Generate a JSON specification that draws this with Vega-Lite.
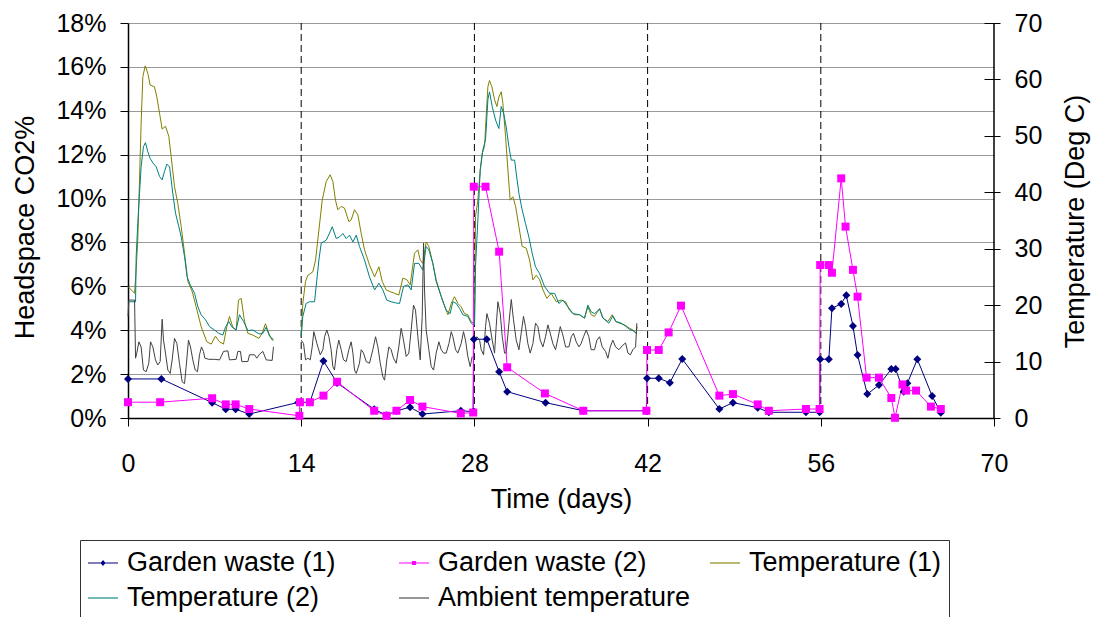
{
  "$schema": "https://vega.github.io/schema/vega-lite/v6.json",
  "width": 866,
  "height": 395,
  "autosize": {"type": "none"},
  "padding": {"left": 128, "top": 23, "right": 104, "bottom": 199},
  "background": "white",
  "config": {
    "font": "Liberation Sans",
    "view": {"stroke": null},
    "axis": {
      "labelColor": "black", "titleColor": "black", "titleFontWeight": "normal",
      "domainColor": "black", "tickColor": "black", "domainWidth": 1.5, "tickWidth": 1,
      "labelFontSize": 25, "titleFontSize": 27,
      "labelFont": "Liberation Sans", "titleFont": "Liberation Sans"
    },
    "legend": {"labelFont": "Liberation Sans"}
  },
  "datasets": {
    "co2": [
      {"series": "Garden waste (1)", "day": 0, "co2": 1.78},
      {"series": "Garden waste (1)", "day": 2.7, "co2": 1.78},
      {"series": "Garden waste (1)", "day": 6.8, "co2": 0.7},
      {"series": "Garden waste (1)", "day": 7.9, "co2": 0.4},
      {"series": "Garden waste (1)", "day": 8.7, "co2": 0.4},
      {"series": "Garden waste (1)", "day": 9.8, "co2": 0.18},
      {"series": "Garden waste (1)", "day": 13.75, "co2": 0.71},
      {"series": "Garden waste (1)", "day": 14.7, "co2": 0.71},
      {"series": "Garden waste (1)", "day": 15.8, "co2": 2.6},
      {"series": "Garden waste (1)", "day": 16.9, "co2": 1.6},
      {"series": "Garden waste (1)", "day": 19.9, "co2": 0.4},
      {"series": "Garden waste (1)", "day": 20.9, "co2": 0.12},
      {"series": "Garden waste (1)", "day": 21.7, "co2": 0.33},
      {"series": "Garden waste (1)", "day": 22.8, "co2": 0.49},
      {"series": "Garden waste (1)", "day": 23.8, "co2": 0.18},
      {"series": "Garden waste (1)", "day": 26.9, "co2": 0.33},
      {"series": "Garden waste (1)", "day": 27.9, "co2": 0.29},
      {"series": "Garden waste (1)", "day": 27.95, "co2": 3.59},
      {"series": "Garden waste (1)", "day": 29.0, "co2": 3.59},
      {"series": "Garden waste (1)", "day": 30.0, "co2": 2.11},
      {"series": "Garden waste (1)", "day": 30.65, "co2": 1.2},
      {"series": "Garden waste (1)", "day": 33.75, "co2": 0.7},
      {"series": "Garden waste (1)", "day": 36.8, "co2": 0.33},
      {"series": "Garden waste (1)", "day": 41.9, "co2": 0.33},
      {"series": "Garden waste (1)", "day": 41.95, "co2": 1.81},
      {"series": "Garden waste (1)", "day": 42.9, "co2": 1.81},
      {"series": "Garden waste (1)", "day": 43.8, "co2": 1.61},
      {"series": "Garden waste (1)", "day": 44.8, "co2": 2.69},
      {"series": "Garden waste (1)", "day": 47.8, "co2": 0.41},
      {"series": "Garden waste (1)", "day": 48.9, "co2": 0.7},
      {"series": "Garden waste (1)", "day": 50.9, "co2": 0.47},
      {"series": "Garden waste (1)", "day": 51.8, "co2": 0.26},
      {"series": "Garden waste (1)", "day": 54.8, "co2": 0.26},
      {"series": "Garden waste (1)", "day": 55.9, "co2": 0.26},
      {"series": "Garden waste (1)", "day": 55.95, "co2": 2.68},
      {"series": "Garden waste (1)", "day": 56.65, "co2": 2.68},
      {"series": "Garden waste (1)", "day": 56.9, "co2": 5.0},
      {"series": "Garden waste (1)", "day": 57.65, "co2": 5.2},
      {"series": "Garden waste (1)", "day": 58.06, "co2": 5.59},
      {"series": "Garden waste (1)", "day": 58.6, "co2": 4.19},
      {"series": "Garden waste (1)", "day": 58.97, "co2": 2.87},
      {"series": "Garden waste (1)", "day": 59.76, "co2": 1.09},
      {"series": "Garden waste (1)", "day": 60.7, "co2": 1.5},
      {"series": "Garden waste (1)", "day": 61.7, "co2": 2.23},
      {"series": "Garden waste (1)", "day": 62.05, "co2": 2.23},
      {"series": "Garden waste (1)", "day": 62.7, "co2": 1.2},
      {"series": "Garden waste (1)", "day": 63.0, "co2": 1.58},
      {"series": "Garden waste (1)", "day": 63.8, "co2": 2.68},
      {"series": "Garden waste (1)", "day": 65.0, "co2": 1.0},
      {"series": "Garden waste (1)", "day": 65.7, "co2": 0.24},
      {"series": "Garden waste (2)", "day": 0, "co2": 0.72},
      {"series": "Garden waste (2)", "day": 2.6, "co2": 0.72},
      {"series": "Garden waste (2)", "day": 6.8, "co2": 0.9},
      {"series": "Garden waste (2)", "day": 7.9, "co2": 0.62},
      {"series": "Garden waste (2)", "day": 8.7, "co2": 0.62},
      {"series": "Garden waste (2)", "day": 9.8, "co2": 0.41},
      {"series": "Garden waste (2)", "day": 13.85, "co2": 0.1},
      {"series": "Garden waste (2)", "day": 13.9, "co2": 0.72},
      {"series": "Garden waste (2)", "day": 14.7, "co2": 0.72},
      {"series": "Garden waste (2)", "day": 15.8, "co2": 1.02},
      {"series": "Garden waste (2)", "day": 16.9, "co2": 1.65},
      {"series": "Garden waste (2)", "day": 19.9, "co2": 0.33},
      {"series": "Garden waste (2)", "day": 20.9, "co2": 0.1},
      {"series": "Garden waste (2)", "day": 21.7, "co2": 0.33},
      {"series": "Garden waste (2)", "day": 22.8, "co2": 0.82},
      {"series": "Garden waste (2)", "day": 23.8, "co2": 0.52},
      {"series": "Garden waste (2)", "day": 26.9, "co2": 0.21},
      {"series": "Garden waste (2)", "day": 27.9, "co2": 0.25},
      {"series": "Garden waste (2)", "day": 27.95, "co2": 10.54},
      {"series": "Garden waste (2)", "day": 28.9, "co2": 10.54},
      {"series": "Garden waste (2)", "day": 30.0, "co2": 7.58},
      {"series": "Garden waste (2)", "day": 30.65, "co2": 2.31},
      {"series": "Garden waste (2)", "day": 33.7, "co2": 1.12},
      {"series": "Garden waste (2)", "day": 36.8, "co2": 0.33},
      {"series": "Garden waste (2)", "day": 41.9, "co2": 0.33},
      {"series": "Garden waste (2)", "day": 41.95, "co2": 3.1},
      {"series": "Garden waste (2)", "day": 42.9, "co2": 3.1},
      {"series": "Garden waste (2)", "day": 43.7, "co2": 3.9},
      {"series": "Garden waste (2)", "day": 44.7, "co2": 5.12},
      {"series": "Garden waste (2)", "day": 47.8, "co2": 1.02},
      {"series": "Garden waste (2)", "day": 48.9, "co2": 1.09},
      {"series": "Garden waste (2)", "day": 50.9, "co2": 0.62},
      {"series": "Garden waste (2)", "day": 51.8, "co2": 0.33},
      {"series": "Garden waste (2)", "day": 54.8, "co2": 0.41},
      {"series": "Garden waste (2)", "day": 55.9, "co2": 0.41},
      {"series": "Garden waste (2)", "day": 55.95, "co2": 6.97},
      {"series": "Garden waste (2)", "day": 56.65, "co2": 6.97},
      {"series": "Garden waste (2)", "day": 56.9, "co2": 6.62},
      {"series": "Garden waste (2)", "day": 57.65, "co2": 10.92},
      {"series": "Garden waste (2)", "day": 58.0, "co2": 8.72},
      {"series": "Garden waste (2)", "day": 58.6, "co2": 6.75},
      {"series": "Garden waste (2)", "day": 58.97, "co2": 5.53},
      {"series": "Garden waste (2)", "day": 59.7, "co2": 1.84},
      {"series": "Garden waste (2)", "day": 60.7, "co2": 1.84},
      {"series": "Garden waste (2)", "day": 61.7, "co2": 0.91},
      {"series": "Garden waste (2)", "day": 62.0, "co2": 0.01},
      {"series": "Garden waste (2)", "day": 62.6, "co2": 1.53},
      {"series": "Garden waste (2)", "day": 62.9, "co2": 1.25},
      {"series": "Garden waste (2)", "day": 63.7, "co2": 1.25},
      {"series": "Garden waste (2)", "day": 64.9, "co2": 0.52},
      {"series": "Garden waste (2)", "day": 65.7, "co2": 0.41}
    ],
    "temp": [
      {"series": "Temperature (1)", "run": 1, "day": 0, "temp": 23.3},
      {"series": "Temperature (1)", "run": 1, "day": 0.53, "temp": 22.1},
      {"series": "Temperature (1)", "run": 1, "day": 0.64, "temp": 25.6},
      {"series": "Temperature (1)", "run": 1, "day": 0.79, "temp": 31.5},
      {"series": "Temperature (1)", "run": 1, "day": 0.93, "temp": 42.2},
      {"series": "Temperature (1)", "run": 1, "day": 1.06, "temp": 52.2},
      {"series": "Temperature (1)", "run": 1, "day": 1.2, "temp": 60.5},
      {"series": "Temperature (1)", "run": 1, "day": 1.39, "temp": 62.4},
      {"series": "Temperature (1)", "run": 1, "day": 1.6, "temp": 61.1},
      {"series": "Temperature (1)", "run": 1, "day": 1.79, "temp": 59.0},
      {"series": "Temperature (1)", "run": 1, "day": 2.14, "temp": 58.7},
      {"series": "Temperature (1)", "run": 1, "day": 2.33, "temp": 56.9},
      {"series": "Temperature (1)", "run": 1, "day": 2.55, "temp": 54.0},
      {"series": "Temperature (1)", "run": 1, "day": 2.76, "temp": 51.2},
      {"series": "Temperature (1)", "run": 1, "day": 3.03, "temp": 51.7},
      {"series": "Temperature (1)", "run": 1, "day": 3.3, "temp": 49.9},
      {"series": "Temperature (1)", "run": 1, "day": 3.49, "temp": 46.3},
      {"series": "Temperature (1)", "run": 1, "day": 3.76, "temp": 41.0},
      {"series": "Temperature (1)", "run": 1, "day": 4.03, "temp": 38.0},
      {"series": "Temperature (1)", "run": 1, "day": 4.3, "temp": 33.9},
      {"series": "Temperature (1)", "run": 1, "day": 4.57, "temp": 29.2},
      {"series": "Temperature (1)", "run": 1, "day": 4.84, "temp": 24.2},
      {"series": "Temperature (1)", "run": 1, "day": 5.19, "temp": 22.4},
      {"series": "Temperature (1)", "run": 1, "day": 5.51, "temp": 19.7},
      {"series": "Temperature (1)", "run": 1, "day": 5.91, "temp": 16.2},
      {"series": "Temperature (1)", "run": 1, "day": 6.37, "temp": 13.5},
      {"series": "Temperature (1)", "run": 1, "day": 6.72, "temp": 13.1},
      {"series": "Temperature (1)", "run": 1, "day": 7.07, "temp": 14.5},
      {"series": "Temperature (1)", "run": 1, "day": 7.4, "temp": 13.5},
      {"series": "Temperature (1)", "run": 1, "day": 7.72, "temp": 13.1},
      {"series": "Temperature (1)", "run": 1, "day": 7.99, "temp": 16.2},
      {"series": "Temperature (1)", "run": 1, "day": 8.2, "temp": 18.0},
      {"series": "Temperature (1)", "run": 1, "day": 8.47, "temp": 16.1},
      {"series": "Temperature (1)", "run": 1, "day": 8.74, "temp": 15.6},
      {"series": "Temperature (1)", "run": 1, "day": 8.93, "temp": 20.9},
      {"series": "Temperature (1)", "run": 1, "day": 9.15, "temp": 21.2},
      {"series": "Temperature (1)", "run": 1, "day": 9.42, "temp": 17.1},
      {"series": "Temperature (1)", "run": 1, "day": 9.69, "temp": 15.0},
      {"series": "Temperature (1)", "run": 1, "day": 10.09, "temp": 14.7},
      {"series": "Temperature (1)", "run": 1, "day": 10.58, "temp": 14.1},
      {"series": "Temperature (1)", "run": 1, "day": 10.84, "temp": 15.0},
      {"series": "Temperature (1)", "run": 1, "day": 11.11, "temp": 16.7},
      {"series": "Temperature (1)", "run": 1, "day": 11.38, "temp": 15.0},
      {"series": "Temperature (1)", "run": 1, "day": 11.65, "temp": 13.8},
      {"series": "Temperature (1)", "run": 1, "day": 11.76, "temp": 13.8},
      {"series": "Temperature (1)", "run": 2, "day": 14.0, "temp": 14.4},
      {"series": "Temperature (1)", "run": 2, "day": 14.13, "temp": 20.3},
      {"series": "Temperature (1)", "run": 2, "day": 14.35, "temp": 24.2},
      {"series": "Temperature (1)", "run": 2, "day": 14.54, "temp": 25.3},
      {"series": "Temperature (1)", "run": 2, "day": 14.94, "temp": 25.9},
      {"series": "Temperature (1)", "run": 2, "day": 15.16, "temp": 28.0},
      {"series": "Temperature (1)", "run": 2, "day": 15.43, "temp": 33.3},
      {"series": "Temperature (1)", "run": 2, "day": 15.7, "temp": 38.6},
      {"series": "Temperature (1)", "run": 2, "day": 16.02, "temp": 41.9},
      {"series": "Temperature (1)", "run": 2, "day": 16.34, "temp": 43.1},
      {"series": "Temperature (1)", "run": 2, "day": 16.56, "temp": 41.9},
      {"series": "Temperature (1)", "run": 2, "day": 16.77, "temp": 38.6},
      {"series": "Temperature (1)", "run": 2, "day": 16.96, "temp": 36.9},
      {"series": "Temperature (1)", "run": 2, "day": 17.23, "temp": 37.5},
      {"series": "Temperature (1)", "run": 2, "day": 17.5, "temp": 37.2},
      {"series": "Temperature (1)", "run": 2, "day": 17.85, "temp": 34.8},
      {"series": "Temperature (1)", "run": 2, "day": 18.04, "temp": 35.1},
      {"series": "Temperature (1)", "run": 2, "day": 18.31, "temp": 36.9},
      {"series": "Temperature (1)", "run": 2, "day": 18.58, "temp": 36.0},
      {"series": "Temperature (1)", "run": 2, "day": 18.85, "temp": 32.7},
      {"series": "Temperature (1)", "run": 2, "day": 19.12, "temp": 29.8},
      {"series": "Temperature (1)", "run": 2, "day": 19.52, "temp": 27.1},
      {"series": "Temperature (1)", "run": 2, "day": 19.93, "temp": 25.0},
      {"series": "Temperature (1)", "run": 2, "day": 20.28, "temp": 26.8},
      {"series": "Temperature (1)", "run": 2, "day": 20.55, "temp": 24.2},
      {"series": "Temperature (1)", "run": 2, "day": 20.87, "temp": 22.7},
      {"series": "Temperature (1)", "run": 2, "day": 21.19, "temp": 22.4},
      {"series": "Temperature (1)", "run": 2, "day": 21.54, "temp": 22.1},
      {"series": "Temperature (1)", "run": 2, "day": 21.89, "temp": 21.8},
      {"series": "Temperature (1)", "run": 2, "day": 22.22, "temp": 24.8},
      {"series": "Temperature (1)", "run": 2, "day": 22.54, "temp": 24.5},
      {"series": "Temperature (1)", "run": 2, "day": 22.81, "temp": 23.6},
      {"series": "Temperature (1)", "run": 2, "day": 23.16, "temp": 29.2},
      {"series": "Temperature (1)", "run": 2, "day": 23.43, "temp": 29.8},
      {"series": "Temperature (1)", "run": 2, "day": 23.62, "temp": 28.0},
      {"series": "Temperature (1)", "run": 2, "day": 23.83, "temp": 27.4},
      {"series": "Temperature (1)", "run": 2, "day": 24.1, "temp": 31.2},
      {"series": "Temperature (1)", "run": 2, "day": 24.32, "temp": 30.4},
      {"series": "Temperature (1)", "run": 2, "day": 24.64, "temp": 27.4},
      {"series": "Temperature (1)", "run": 2, "day": 24.91, "temp": 24.5},
      {"series": "Temperature (1)", "run": 2, "day": 25.24, "temp": 22.1},
      {"series": "Temperature (1)", "run": 2, "day": 25.51, "temp": 20.3},
      {"series": "Temperature (1)", "run": 2, "day": 25.86, "temp": 18.3},
      {"series": "Temperature (1)", "run": 2, "day": 26.13, "temp": 20.3},
      {"series": "Temperature (1)", "run": 2, "day": 26.39, "temp": 21.5},
      {"series": "Temperature (1)", "run": 2, "day": 26.66, "temp": 20.3},
      {"series": "Temperature (1)", "run": 2, "day": 26.93, "temp": 19.7},
      {"series": "Temperature (1)", "run": 2, "day": 27.2, "temp": 18.5},
      {"series": "Temperature (1)", "run": 2, "day": 27.47, "temp": 18.3},
      {"series": "Temperature (1)", "run": 2, "day": 27.74, "temp": 17.1},
      {"series": "Temperature (1)", "run": 2, "day": 27.93, "temp": 16.8},
      {"series": "Temperature (1)", "run": 3, "day": 28.01, "temp": 16.8},
      {"series": "Temperature (1)", "run": 3, "day": 28.09, "temp": 35.7},
      {"series": "Temperature (1)", "run": 3, "day": 28.28, "temp": 38.6},
      {"series": "Temperature (1)", "run": 3, "day": 28.47, "temp": 43.9},
      {"series": "Temperature (1)", "run": 3, "day": 28.63, "temp": 46.9},
      {"series": "Temperature (1)", "run": 3, "day": 28.82, "temp": 48.1},
      {"series": "Temperature (1)", "run": 3, "day": 28.95, "temp": 53.4},
      {"series": "Temperature (1)", "run": 3, "day": 29.09, "temp": 58.7},
      {"series": "Temperature (1)", "run": 3, "day": 29.22, "temp": 59.8},
      {"series": "Temperature (1)", "run": 3, "day": 29.41, "temp": 58.7},
      {"series": "Temperature (1)", "run": 3, "day": 29.63, "temp": 56.4},
      {"series": "Temperature (1)", "run": 3, "day": 29.82, "temp": 55.2},
      {"series": "Temperature (1)", "run": 3, "day": 29.98, "temp": 56.9},
      {"series": "Temperature (1)", "run": 3, "day": 30.17, "temp": 57.8},
      {"series": "Temperature (1)", "run": 3, "day": 30.3, "temp": 55.8},
      {"series": "Temperature (1)", "run": 3, "day": 30.52, "temp": 49.9},
      {"series": "Temperature (1)", "run": 3, "day": 30.71, "temp": 43.9},
      {"series": "Temperature (1)", "run": 3, "day": 30.89, "temp": 38.6},
      {"series": "Temperature (1)", "run": 3, "day": 31.11, "temp": 39.2},
      {"series": "Temperature (1)", "run": 3, "day": 31.33, "temp": 37.5},
      {"series": "Temperature (1)", "run": 3, "day": 31.6, "temp": 33.9},
      {"series": "Temperature (1)", "run": 3, "day": 31.86, "temp": 30.4},
      {"series": "Temperature (1)", "run": 3, "day": 32.19, "temp": 30.1},
      {"series": "Temperature (1)", "run": 3, "day": 32.46, "temp": 28.0},
      {"series": "Temperature (1)", "run": 3, "day": 32.73, "temp": 24.5},
      {"series": "Temperature (1)", "run": 3, "day": 33.0, "temp": 25.3},
      {"series": "Temperature (1)", "run": 3, "day": 33.27, "temp": 24.5},
      {"series": "Temperature (1)", "run": 3, "day": 33.54, "temp": 22.7},
      {"series": "Temperature (1)", "run": 3, "day": 33.86, "temp": 21.2},
      {"series": "Temperature (1)", "run": 3, "day": 34.21, "temp": 22.1},
      {"series": "Temperature (1)", "run": 3, "day": 34.61, "temp": 20.6},
      {"series": "Temperature (1)", "run": 3, "day": 35.02, "temp": 20.9},
      {"series": "Temperature (1)", "run": 3, "day": 35.37, "temp": 20.6},
      {"series": "Temperature (1)", "run": 3, "day": 35.69, "temp": 19.1},
      {"series": "Temperature (1)", "run": 3, "day": 36.1, "temp": 18.3},
      {"series": "Temperature (1)", "run": 3, "day": 36.5, "temp": 18.3},
      {"series": "Temperature (1)", "run": 3, "day": 36.9, "temp": 17.7},
      {"series": "Temperature (1)", "run": 3, "day": 37.17, "temp": 19.7},
      {"series": "Temperature (1)", "run": 3, "day": 37.44, "temp": 18.3},
      {"series": "Temperature (1)", "run": 3, "day": 37.71, "temp": 18.0},
      {"series": "Temperature (1)", "run": 3, "day": 38.12, "temp": 19.4},
      {"series": "Temperature (1)", "run": 3, "day": 38.39, "temp": 17.7},
      {"series": "Temperature (1)", "run": 3, "day": 38.79, "temp": 17.1},
      {"series": "Temperature (1)", "run": 3, "day": 39.14, "temp": 18.3},
      {"series": "Temperature (1)", "run": 3, "day": 39.41, "temp": 17.1},
      {"series": "Temperature (1)", "run": 3, "day": 39.73, "temp": 16.8},
      {"series": "Temperature (1)", "run": 3, "day": 40.14, "temp": 16.5},
      {"series": "Temperature (1)", "run": 3, "day": 40.54, "temp": 15.9},
      {"series": "Temperature (1)", "run": 3, "day": 40.81, "temp": 15.6},
      {"series": "Temperature (1)", "run": 3, "day": 41.08, "temp": 15.0},
      {"series": "Temperature (1)", "run": 3, "day": 41.16, "temp": 16.2},
      {"series": "Temperature (2)", "run": 1, "day": 0.12, "temp": 20.6},
      {"series": "Temperature (2)", "run": 1, "day": 0.61, "temp": 20.6},
      {"series": "Temperature (2)", "run": 1, "day": 0.66, "temp": 28.6},
      {"series": "Temperature (2)", "run": 1, "day": 0.79, "temp": 34.5},
      {"series": "Temperature (2)", "run": 1, "day": 0.93, "temp": 39.8},
      {"series": "Temperature (2)", "run": 1, "day": 1.06, "temp": 44.5},
      {"series": "Temperature (2)", "run": 1, "day": 1.25, "temp": 48.1},
      {"series": "Temperature (2)", "run": 1, "day": 1.41, "temp": 48.8},
      {"series": "Temperature (2)", "run": 1, "day": 1.6, "temp": 47.2},
      {"series": "Temperature (2)", "run": 1, "day": 1.79, "temp": 46.0},
      {"series": "Temperature (2)", "run": 1, "day": 2.01, "temp": 45.2},
      {"series": "Temperature (2)", "run": 1, "day": 2.28, "temp": 44.5},
      {"series": "Temperature (2)", "run": 1, "day": 2.55, "temp": 42.8},
      {"series": "Temperature (2)", "run": 1, "day": 2.76, "temp": 42.2},
      {"series": "Temperature (2)", "run": 1, "day": 2.95, "temp": 43.7},
      {"series": "Temperature (2)", "run": 1, "day": 3.14, "temp": 45.0},
      {"series": "Temperature (2)", "run": 1, "day": 3.36, "temp": 44.5},
      {"series": "Temperature (2)", "run": 1, "day": 3.49, "temp": 42.2},
      {"series": "Temperature (2)", "run": 1, "day": 3.62, "temp": 39.8},
      {"series": "Temperature (2)", "run": 1, "day": 3.84, "temp": 36.3},
      {"series": "Temperature (2)", "run": 1, "day": 4.11, "temp": 33.9},
      {"series": "Temperature (2)", "run": 1, "day": 4.3, "temp": 32.1},
      {"series": "Temperature (2)", "run": 1, "day": 4.57, "temp": 28.6},
      {"series": "Temperature (2)", "run": 1, "day": 4.78, "temp": 25.0},
      {"series": "Temperature (2)", "run": 1, "day": 5.03, "temp": 23.6},
      {"series": "Temperature (2)", "run": 1, "day": 5.38, "temp": 22.1},
      {"series": "Temperature (2)", "run": 1, "day": 5.65, "temp": 19.7},
      {"series": "Temperature (2)", "run": 1, "day": 5.91, "temp": 18.3},
      {"series": "Temperature (2)", "run": 1, "day": 6.27, "temp": 17.4},
      {"series": "Temperature (2)", "run": 1, "day": 6.59, "temp": 16.2},
      {"series": "Temperature (2)", "run": 1, "day": 6.99, "temp": 15.6},
      {"series": "Temperature (2)", "run": 1, "day": 7.34, "temp": 15.0},
      {"series": "Temperature (2)", "run": 1, "day": 7.67, "temp": 14.7},
      {"series": "Temperature (2)", "run": 1, "day": 7.88, "temp": 16.1},
      {"series": "Temperature (2)", "run": 1, "day": 8.15, "temp": 17.1},
      {"series": "Temperature (2)", "run": 1, "day": 8.42, "temp": 16.1},
      {"series": "Temperature (2)", "run": 1, "day": 8.74, "temp": 15.6},
      {"series": "Temperature (2)", "run": 1, "day": 9.01, "temp": 18.3},
      {"series": "Temperature (2)", "run": 1, "day": 9.34, "temp": 17.1},
      {"series": "Temperature (2)", "run": 1, "day": 9.69, "temp": 15.5},
      {"series": "Temperature (2)", "run": 1, "day": 10.09, "temp": 15.6},
      {"series": "Temperature (2)", "run": 1, "day": 10.58, "temp": 14.9},
      {"series": "Temperature (2)", "run": 1, "day": 10.9, "temp": 15.0},
      {"series": "Temperature (2)", "run": 1, "day": 11.17, "temp": 16.1},
      {"series": "Temperature (2)", "run": 1, "day": 11.44, "temp": 14.5},
      {"series": "Temperature (2)", "run": 1, "day": 11.76, "temp": 13.9},
      {"series": "Temperature (2)", "run": 2, "day": 14.0, "temp": 14.4},
      {"series": "Temperature (2)", "run": 2, "day": 14.13, "temp": 18.0},
      {"series": "Temperature (2)", "run": 2, "day": 14.4, "temp": 20.3},
      {"series": "Temperature (2)", "run": 2, "day": 14.67, "temp": 20.6},
      {"series": "Temperature (2)", "run": 2, "day": 15.08, "temp": 20.6},
      {"series": "Temperature (2)", "run": 2, "day": 15.43, "temp": 28.0},
      {"series": "Temperature (2)", "run": 2, "day": 15.62, "temp": 31.0},
      {"series": "Temperature (2)", "run": 2, "day": 16.02, "temp": 31.5},
      {"series": "Temperature (2)", "run": 2, "day": 16.34, "temp": 33.0},
      {"series": "Temperature (2)", "run": 2, "day": 16.51, "temp": 33.9},
      {"series": "Temperature (2)", "run": 2, "day": 16.83, "temp": 31.8},
      {"series": "Temperature (2)", "run": 2, "day": 17.1, "temp": 32.1},
      {"series": "Temperature (2)", "run": 2, "day": 17.37, "temp": 32.7},
      {"series": "Temperature (2)", "run": 2, "day": 17.64, "temp": 31.8},
      {"series": "Temperature (2)", "run": 2, "day": 17.91, "temp": 32.4},
      {"series": "Temperature (2)", "run": 2, "day": 18.18, "temp": 31.2},
      {"series": "Temperature (2)", "run": 2, "day": 18.45, "temp": 32.4},
      {"series": "Temperature (2)", "run": 2, "day": 18.71, "temp": 30.4},
      {"series": "Temperature (2)", "run": 2, "day": 19.12, "temp": 28.0},
      {"series": "Temperature (2)", "run": 2, "day": 19.52, "temp": 25.0},
      {"series": "Temperature (2)", "run": 2, "day": 19.93, "temp": 22.7},
      {"series": "Temperature (2)", "run": 2, "day": 20.28, "temp": 23.9},
      {"series": "Temperature (2)", "run": 2, "day": 20.6, "temp": 22.7},
      {"series": "Temperature (2)", "run": 2, "day": 20.92, "temp": 20.9},
      {"series": "Temperature (2)", "run": 2, "day": 21.27, "temp": 20.6},
      {"series": "Temperature (2)", "run": 2, "day": 21.62, "temp": 20.4},
      {"series": "Temperature (2)", "run": 2, "day": 21.95, "temp": 20.3},
      {"series": "Temperature (2)", "run": 2, "day": 22.27, "temp": 23.3},
      {"series": "Temperature (2)", "run": 2, "day": 22.62, "temp": 23.6},
      {"series": "Temperature (2)", "run": 2, "day": 22.89, "temp": 22.7},
      {"series": "Temperature (2)", "run": 2, "day": 23.16, "temp": 27.4},
      {"series": "Temperature (2)", "run": 2, "day": 23.51, "temp": 27.4},
      {"series": "Temperature (2)", "run": 2, "day": 23.83, "temp": 26.2},
      {"series": "Temperature (2)", "run": 2, "day": 24.1, "temp": 30.4},
      {"series": "Temperature (2)", "run": 2, "day": 24.32, "temp": 29.8},
      {"series": "Temperature (2)", "run": 2, "day": 24.64, "temp": 27.4},
      {"series": "Temperature (2)", "run": 2, "day": 24.91, "temp": 24.2},
      {"series": "Temperature (2)", "run": 2, "day": 25.32, "temp": 21.5},
      {"series": "Temperature (2)", "run": 2, "day": 25.72, "temp": 19.1},
      {"series": "Temperature (2)", "run": 2, "day": 26.04, "temp": 18.5},
      {"series": "Temperature (2)", "run": 2, "day": 26.26, "temp": 20.6},
      {"series": "Temperature (2)", "run": 2, "day": 26.53, "temp": 20.3},
      {"series": "Temperature (2)", "run": 2, "day": 26.8, "temp": 19.4},
      {"series": "Temperature (2)", "run": 2, "day": 27.07, "temp": 18.3},
      {"series": "Temperature (2)", "run": 2, "day": 27.47, "temp": 18.0},
      {"series": "Temperature (2)", "run": 2, "day": 27.74, "temp": 16.8},
      {"series": "Temperature (2)", "run": 2, "day": 27.93, "temp": 16.5},
      {"series": "Temperature (2)", "run": 3, "day": 28.01, "temp": 16.5},
      {"series": "Temperature (2)", "run": 3, "day": 28.09, "temp": 26.8},
      {"series": "Temperature (2)", "run": 3, "day": 28.28, "temp": 35.1},
      {"series": "Temperature (2)", "run": 3, "day": 28.47, "temp": 43.9},
      {"series": "Temperature (2)", "run": 3, "day": 28.68, "temp": 47.5},
      {"series": "Temperature (2)", "run": 3, "day": 28.9, "temp": 49.3},
      {"series": "Temperature (2)", "run": 3, "day": 29.09, "temp": 56.4},
      {"series": "Temperature (2)", "run": 3, "day": 29.22, "temp": 57.8},
      {"series": "Temperature (2)", "run": 3, "day": 29.44, "temp": 55.2},
      {"series": "Temperature (2)", "run": 3, "day": 29.71, "temp": 52.8},
      {"series": "Temperature (2)", "run": 3, "day": 29.98, "temp": 51.3},
      {"series": "Temperature (2)", "run": 3, "day": 30.17, "temp": 55.2},
      {"series": "Temperature (2)", "run": 3, "day": 30.36, "temp": 54.0},
      {"series": "Temperature (2)", "run": 3, "day": 30.57, "temp": 51.6},
      {"series": "Temperature (2)", "run": 3, "day": 30.79, "temp": 48.1},
      {"series": "Temperature (2)", "run": 3, "day": 30.98, "temp": 45.7},
      {"series": "Temperature (2)", "run": 3, "day": 31.25, "temp": 45.7},
      {"series": "Temperature (2)", "run": 3, "day": 31.38, "temp": 43.4},
      {"series": "Temperature (2)", "run": 3, "day": 31.6, "temp": 39.8},
      {"series": "Temperature (2)", "run": 3, "day": 31.86, "temp": 36.9},
      {"series": "Temperature (2)", "run": 3, "day": 32.13, "temp": 34.5},
      {"series": "Temperature (2)", "run": 3, "day": 32.4, "temp": 32.1},
      {"series": "Temperature (2)", "run": 3, "day": 32.67, "temp": 29.2},
      {"series": "Temperature (2)", "run": 3, "day": 32.94, "temp": 26.8},
      {"series": "Temperature (2)", "run": 3, "day": 33.27, "temp": 25.6},
      {"series": "Temperature (2)", "run": 3, "day": 33.67, "temp": 23.3},
      {"series": "Temperature (2)", "run": 3, "day": 34.07, "temp": 22.1},
      {"series": "Temperature (2)", "run": 3, "day": 34.48, "temp": 22.1},
      {"series": "Temperature (2)", "run": 3, "day": 34.83, "temp": 20.3},
      {"series": "Temperature (2)", "run": 3, "day": 35.15, "temp": 20.9},
      {"series": "Temperature (2)", "run": 3, "day": 35.56, "temp": 19.7},
      {"series": "Temperature (2)", "run": 3, "day": 35.96, "temp": 18.5},
      {"series": "Temperature (2)", "run": 3, "day": 36.5, "temp": 18.3},
      {"series": "Temperature (2)", "run": 3, "day": 36.9, "temp": 17.7},
      {"series": "Temperature (2)", "run": 3, "day": 37.17, "temp": 20.0},
      {"series": "Temperature (2)", "run": 3, "day": 37.44, "temp": 18.8},
      {"series": "Temperature (2)", "run": 3, "day": 37.71, "temp": 18.5},
      {"series": "Temperature (2)", "run": 3, "day": 38.12, "temp": 19.3},
      {"series": "Temperature (2)", "run": 3, "day": 38.39, "temp": 17.7},
      {"series": "Temperature (2)", "run": 3, "day": 38.87, "temp": 16.8},
      {"series": "Temperature (2)", "run": 3, "day": 39.19, "temp": 18.1},
      {"series": "Temperature (2)", "run": 3, "day": 39.46, "temp": 17.1},
      {"series": "Temperature (2)", "run": 3, "day": 39.87, "temp": 16.8},
      {"series": "Temperature (2)", "run": 3, "day": 40.27, "temp": 16.2},
      {"series": "Temperature (2)", "run": 3, "day": 40.54, "temp": 15.7},
      {"series": "Temperature (2)", "run": 3, "day": 40.81, "temp": 15.5},
      {"series": "Temperature (2)", "run": 3, "day": 41.08, "temp": 15.0},
      {"series": "Ambient temperature", "run": 1, "day": 0, "temp": 18.0},
      {"series": "Ambient temperature", "run": 1, "day": 0.07, "temp": 20.9},
      {"series": "Ambient temperature", "run": 1, "day": 0.53, "temp": 20.9},
      {"series": "Ambient temperature", "run": 1, "day": 0.61, "temp": 10.6},
      {"series": "Ambient temperature", "run": 1, "day": 0.71, "temp": 11.5},
      {"series": "Ambient temperature", "run": 1, "day": 0.88, "temp": 13.5},
      {"series": "Ambient temperature", "run": 1, "day": 1.06, "temp": 12.6},
      {"series": "Ambient temperature", "run": 1, "day": 1.25, "temp": 8.5},
      {"series": "Ambient temperature", "run": 1, "day": 1.47, "temp": 8.2},
      {"series": "Ambient temperature", "run": 1, "day": 1.68, "temp": 9.7},
      {"series": "Ambient temperature", "run": 1, "day": 1.82, "temp": 13.5},
      {"series": "Ambient temperature", "run": 1, "day": 2.01, "temp": 12.6},
      {"series": "Ambient temperature", "run": 1, "day": 2.22, "temp": 10.3},
      {"series": "Ambient temperature", "run": 1, "day": 2.41, "temp": 9.4},
      {"series": "Ambient temperature", "run": 1, "day": 2.6, "temp": 10.0},
      {"series": "Ambient temperature", "run": 1, "day": 2.76, "temp": 17.5},
      {"series": "Ambient temperature", "run": 1, "day": 2.87, "temp": 13.8},
      {"series": "Ambient temperature", "run": 1, "day": 3.03, "temp": 11.5},
      {"series": "Ambient temperature", "run": 1, "day": 3.22, "temp": 8.5},
      {"series": "Ambient temperature", "run": 1, "day": 3.41, "temp": 7.9},
      {"series": "Ambient temperature", "run": 1, "day": 3.57, "temp": 10.3},
      {"series": "Ambient temperature", "run": 1, "day": 3.76, "temp": 14.1},
      {"series": "Ambient temperature", "run": 1, "day": 3.95, "temp": 13.2},
      {"series": "Ambient temperature", "run": 1, "day": 4.16, "temp": 9.7},
      {"series": "Ambient temperature", "run": 1, "day": 4.38, "temp": 6.4},
      {"series": "Ambient temperature", "run": 1, "day": 4.57, "temp": 6.1},
      {"series": "Ambient temperature", "run": 1, "day": 4.7, "temp": 9.1},
      {"series": "Ambient temperature", "run": 1, "day": 4.89, "temp": 13.8},
      {"series": "Ambient temperature", "run": 1, "day": 5.05, "temp": 12.6},
      {"series": "Ambient temperature", "run": 1, "day": 5.24, "temp": 10.3},
      {"series": "Ambient temperature", "run": 1, "day": 5.43, "temp": 8.5},
      {"series": "Ambient temperature", "run": 1, "day": 5.62, "temp": 8.2},
      {"series": "Ambient temperature", "run": 1, "day": 5.78, "temp": 11.2},
      {"series": "Ambient temperature", "run": 1, "day": 5.94, "temp": 12.6},
      {"series": "Ambient temperature", "run": 1, "day": 6.1, "temp": 11.8},
      {"series": "Ambient temperature", "run": 1, "day": 6.21, "temp": 10.6},
      {"series": "Ambient temperature", "run": 1, "day": 6.53, "temp": 10.4},
      {"series": "Ambient temperature", "run": 1, "day": 6.99, "temp": 10.4},
      {"series": "Ambient temperature", "run": 1, "day": 7.4, "temp": 10.3},
      {"series": "Ambient temperature", "run": 1, "day": 7.72, "temp": 11.8},
      {"series": "Ambient temperature", "run": 1, "day": 8.07, "temp": 11.9},
      {"series": "Ambient temperature", "run": 1, "day": 8.2, "temp": 10.3},
      {"series": "Ambient temperature", "run": 1, "day": 8.74, "temp": 10.4},
      {"series": "Ambient temperature", "run": 1, "day": 8.88, "temp": 11.8},
      {"series": "Ambient temperature", "run": 1, "day": 9.09, "temp": 11.8},
      {"series": "Ambient temperature", "run": 1, "day": 9.2, "temp": 10.0},
      {"series": "Ambient temperature", "run": 1, "day": 9.69, "temp": 10.0},
      {"series": "Ambient temperature", "run": 1, "day": 9.82, "temp": 11.2},
      {"series": "Ambient temperature", "run": 1, "day": 10.23, "temp": 11.2},
      {"series": "Ambient temperature", "run": 1, "day": 10.41, "temp": 10.6},
      {"series": "Ambient temperature", "run": 1, "day": 10.63, "temp": 11.3},
      {"series": "Ambient temperature", "run": 1, "day": 10.9, "temp": 11.8},
      {"series": "Ambient temperature", "run": 1, "day": 11.17, "temp": 10.3},
      {"series": "Ambient temperature", "run": 1, "day": 11.65, "temp": 10.2},
      {"series": "Ambient temperature", "run": 1, "day": 11.76, "temp": 12.6},
      {"series": "Ambient temperature", "run": 2, "day": 14.0, "temp": 13.8},
      {"series": "Ambient temperature", "run": 2, "day": 14.19, "temp": 13.2},
      {"series": "Ambient temperature", "run": 2, "day": 14.35, "temp": 10.3},
      {"series": "Ambient temperature", "run": 2, "day": 14.54, "temp": 10.6},
      {"series": "Ambient temperature", "run": 2, "day": 14.73, "temp": 10.3},
      {"series": "Ambient temperature", "run": 2, "day": 14.89, "temp": 12.6},
      {"series": "Ambient temperature", "run": 2, "day": 15.02, "temp": 15.3},
      {"series": "Ambient temperature", "run": 2, "day": 15.27, "temp": 13.2},
      {"series": "Ambient temperature", "run": 2, "day": 15.54, "temp": 11.2},
      {"series": "Ambient temperature", "run": 2, "day": 15.75, "temp": 12.1},
      {"series": "Ambient temperature", "run": 2, "day": 15.89, "temp": 14.4},
      {"series": "Ambient temperature", "run": 2, "day": 16.07, "temp": 15.6},
      {"series": "Ambient temperature", "run": 2, "day": 16.24, "temp": 14.4},
      {"series": "Ambient temperature", "run": 2, "day": 16.42, "temp": 12.1},
      {"series": "Ambient temperature", "run": 2, "day": 16.56, "temp": 9.1},
      {"series": "Ambient temperature", "run": 2, "day": 16.69, "temp": 8.5},
      {"series": "Ambient temperature", "run": 2, "day": 16.88, "temp": 12.1},
      {"series": "Ambient temperature", "run": 2, "day": 17.04, "temp": 13.8},
      {"series": "Ambient temperature", "run": 2, "day": 17.23, "temp": 12.1},
      {"series": "Ambient temperature", "run": 2, "day": 17.42, "temp": 10.3},
      {"series": "Ambient temperature", "run": 2, "day": 17.64, "temp": 10.0},
      {"series": "Ambient temperature", "run": 2, "day": 17.85, "temp": 12.1},
      {"series": "Ambient temperature", "run": 2, "day": 18.04, "temp": 13.5},
      {"series": "Ambient temperature", "run": 2, "day": 18.18, "temp": 11.5},
      {"series": "Ambient temperature", "run": 2, "day": 18.31, "temp": 8.5},
      {"series": "Ambient temperature", "run": 2, "day": 18.45, "temp": 7.9},
      {"series": "Ambient temperature", "run": 2, "day": 18.71, "temp": 9.7},
      {"series": "Ambient temperature", "run": 2, "day": 18.85, "temp": 12.1},
      {"series": "Ambient temperature", "run": 2, "day": 19.04, "temp": 11.5},
      {"series": "Ambient temperature", "run": 2, "day": 19.25, "temp": 10.0},
      {"series": "Ambient temperature", "run": 2, "day": 19.52, "temp": 9.7},
      {"series": "Ambient temperature", "run": 2, "day": 19.79, "temp": 12.1},
      {"series": "Ambient temperature", "run": 2, "day": 20.01, "temp": 14.4},
      {"series": "Ambient temperature", "run": 2, "day": 20.2, "temp": 12.6},
      {"series": "Ambient temperature", "run": 2, "day": 20.39, "temp": 9.7},
      {"series": "Ambient temperature", "run": 2, "day": 20.6, "temp": 7.3},
      {"series": "Ambient temperature", "run": 2, "day": 20.74, "temp": 6.7},
      {"series": "Ambient temperature", "run": 2, "day": 20.92, "temp": 10.3},
      {"series": "Ambient temperature", "run": 2, "day": 21.09, "temp": 12.6},
      {"series": "Ambient temperature", "run": 2, "day": 21.27, "temp": 12.1},
      {"series": "Ambient temperature", "run": 2, "day": 21.46, "temp": 10.6},
      {"series": "Ambient temperature", "run": 2, "day": 21.68, "temp": 9.7},
      {"series": "Ambient temperature", "run": 2, "day": 21.89, "temp": 12.6},
      {"series": "Ambient temperature", "run": 2, "day": 22.08, "temp": 15.9},
      {"series": "Ambient temperature", "run": 2, "day": 22.27, "temp": 13.8},
      {"series": "Ambient temperature", "run": 2, "day": 22.49, "temp": 10.9},
      {"series": "Ambient temperature", "run": 2, "day": 22.7, "temp": 11.5},
      {"series": "Ambient temperature", "run": 2, "day": 22.89, "temp": 15.6},
      {"series": "Ambient temperature", "run": 2, "day": 23.08, "temp": 20.0},
      {"series": "Ambient temperature", "run": 2, "day": 23.24, "temp": 19.1},
      {"series": "Ambient temperature", "run": 2, "day": 23.43, "temp": 14.4},
      {"series": "Ambient temperature", "run": 2, "day": 23.62, "temp": 10.3},
      {"series": "Ambient temperature", "run": 2, "day": 23.78, "temp": 18.0},
      {"series": "Ambient temperature", "run": 2, "day": 23.89, "temp": 31.0},
      {"series": "Ambient temperature", "run": 2, "day": 23.97, "temp": 22.7},
      {"series": "Ambient temperature", "run": 2, "day": 24.1, "temp": 15.6},
      {"series": "Ambient temperature", "run": 2, "day": 24.32, "temp": 12.1},
      {"series": "Ambient temperature", "run": 2, "day": 24.51, "temp": 9.1},
      {"series": "Ambient temperature", "run": 2, "day": 24.7, "temp": 8.5},
      {"series": "Ambient temperature", "run": 2, "day": 24.91, "temp": 11.5},
      {"series": "Ambient temperature", "run": 2, "day": 25.13, "temp": 13.5},
      {"series": "Ambient temperature", "run": 2, "day": 25.32, "temp": 12.1},
      {"series": "Ambient temperature", "run": 2, "day": 25.51, "temp": 11.5},
      {"series": "Ambient temperature", "run": 2, "day": 25.72, "temp": 11.5},
      {"series": "Ambient temperature", "run": 2, "day": 25.94, "temp": 13.2},
      {"series": "Ambient temperature", "run": 2, "day": 26.13, "temp": 15.3},
      {"series": "Ambient temperature", "run": 2, "day": 26.26, "temp": 14.4},
      {"series": "Ambient temperature", "run": 2, "day": 26.48, "temp": 12.1},
      {"series": "Ambient temperature", "run": 2, "day": 26.66, "temp": 11.5},
      {"series": "Ambient temperature", "run": 2, "day": 26.93, "temp": 13.2},
      {"series": "Ambient temperature", "run": 2, "day": 27.12, "temp": 15.3},
      {"series": "Ambient temperature", "run": 2, "day": 27.28, "temp": 13.8},
      {"series": "Ambient temperature", "run": 2, "day": 27.47, "temp": 10.9},
      {"series": "Ambient temperature", "run": 2, "day": 27.66, "temp": 9.1},
      {"series": "Ambient temperature", "run": 2, "day": 27.82, "temp": 10.9},
      {"series": "Ambient temperature", "run": 3, "day": 28.01, "temp": 13.8},
      {"series": "Ambient temperature", "run": 3, "day": 28.2, "temp": 14.4},
      {"series": "Ambient temperature", "run": 3, "day": 28.42, "temp": 13.8},
      {"series": "Ambient temperature", "run": 3, "day": 28.55, "temp": 12.1},
      {"series": "Ambient temperature", "run": 3, "day": 28.74, "temp": 11.2},
      {"series": "Ambient temperature", "run": 3, "day": 28.9, "temp": 16.2},
      {"series": "Ambient temperature", "run": 3, "day": 29.01, "temp": 18.5},
      {"series": "Ambient temperature", "run": 3, "day": 29.22, "temp": 16.8},
      {"series": "Ambient temperature", "run": 3, "day": 29.44, "temp": 13.8},
      {"series": "Ambient temperature", "run": 3, "day": 29.63, "temp": 11.5},
      {"series": "Ambient temperature", "run": 3, "day": 29.76, "temp": 16.2},
      {"series": "Ambient temperature", "run": 3, "day": 29.9, "temp": 20.6},
      {"series": "Ambient temperature", "run": 3, "day": 30.09, "temp": 18.5},
      {"series": "Ambient temperature", "run": 3, "day": 30.25, "temp": 14.4},
      {"series": "Ambient temperature", "run": 3, "day": 30.44, "temp": 11.5},
      {"series": "Ambient temperature", "run": 3, "day": 30.57, "temp": 11.5},
      {"series": "Ambient temperature", "run": 3, "day": 30.79, "temp": 16.8},
      {"series": "Ambient temperature", "run": 3, "day": 30.98, "temp": 21.0},
      {"series": "Ambient temperature", "run": 3, "day": 31.16, "temp": 17.4},
      {"series": "Ambient temperature", "run": 3, "day": 31.38, "temp": 13.8},
      {"series": "Ambient temperature", "run": 3, "day": 31.6, "temp": 12.1},
      {"series": "Ambient temperature", "run": 3, "day": 31.78, "temp": 15.0},
      {"series": "Ambient temperature", "run": 3, "day": 31.97, "temp": 18.0},
      {"series": "Ambient temperature", "run": 3, "day": 32.13, "temp": 16.2},
      {"series": "Ambient temperature", "run": 3, "day": 32.32, "temp": 13.2},
      {"series": "Ambient temperature", "run": 3, "day": 32.51, "temp": 11.5},
      {"series": "Ambient temperature", "run": 3, "day": 32.73, "temp": 13.2},
      {"series": "Ambient temperature", "run": 3, "day": 32.94, "temp": 16.8},
      {"series": "Ambient temperature", "run": 3, "day": 33.13, "temp": 16.2},
      {"series": "Ambient temperature", "run": 3, "day": 33.32, "temp": 13.8},
      {"series": "Ambient temperature", "run": 3, "day": 33.54, "temp": 12.6},
      {"series": "Ambient temperature", "run": 3, "day": 33.75, "temp": 14.4},
      {"series": "Ambient temperature", "run": 3, "day": 33.94, "temp": 16.5},
      {"series": "Ambient temperature", "run": 3, "day": 34.13, "temp": 15.0},
      {"series": "Ambient temperature", "run": 3, "day": 34.34, "temp": 13.2},
      {"series": "Ambient temperature", "run": 3, "day": 34.56, "temp": 12.1},
      {"series": "Ambient temperature", "run": 3, "day": 34.75, "temp": 14.1},
      {"series": "Ambient temperature", "run": 3, "day": 34.94, "temp": 16.2},
      {"series": "Ambient temperature", "run": 3, "day": 35.15, "temp": 14.7},
      {"series": "Ambient temperature", "run": 3, "day": 35.37, "temp": 12.6},
      {"series": "Ambient temperature", "run": 3, "day": 35.64, "temp": 12.6},
      {"series": "Ambient temperature", "run": 3, "day": 35.83, "temp": 14.4},
      {"series": "Ambient temperature", "run": 3, "day": 36.01, "temp": 15.0},
      {"series": "Ambient temperature", "run": 3, "day": 36.23, "temp": 13.5},
      {"series": "Ambient temperature", "run": 3, "day": 36.45, "temp": 12.6},
      {"series": "Ambient temperature", "run": 3, "day": 36.63, "temp": 13.2},
      {"series": "Ambient temperature", "run": 3, "day": 36.82, "temp": 14.4},
      {"series": "Ambient temperature", "run": 3, "day": 37.04, "temp": 15.6},
      {"series": "Ambient temperature", "run": 3, "day": 37.25, "temp": 14.4},
      {"series": "Ambient temperature", "run": 3, "day": 37.44, "temp": 12.1},
      {"series": "Ambient temperature", "run": 3, "day": 37.71, "temp": 12.1},
      {"series": "Ambient temperature", "run": 3, "day": 37.9, "temp": 13.8},
      {"series": "Ambient temperature", "run": 3, "day": 38.12, "temp": 14.4},
      {"series": "Ambient temperature", "run": 3, "day": 38.33, "temp": 12.6},
      {"series": "Ambient temperature", "run": 3, "day": 38.6, "temp": 11.8},
      {"series": "Ambient temperature", "run": 3, "day": 38.79, "temp": 10.6},
      {"series": "Ambient temperature", "run": 3, "day": 38.98, "temp": 12.6},
      {"series": "Ambient temperature", "run": 3, "day": 39.19, "temp": 13.8},
      {"series": "Ambient temperature", "run": 3, "day": 39.41, "temp": 12.6},
      {"series": "Ambient temperature", "run": 3, "day": 39.68, "temp": 12.1},
      {"series": "Ambient temperature", "run": 3, "day": 40.0, "temp": 12.9},
      {"series": "Ambient temperature", "run": 3, "day": 40.22, "temp": 13.3},
      {"series": "Ambient temperature", "run": 3, "day": 40.41, "temp": 11.5},
      {"series": "Ambient temperature", "run": 3, "day": 40.6, "temp": 11.2},
      {"series": "Ambient temperature", "run": 3, "day": 40.81, "temp": 12.1},
      {"series": "Ambient temperature", "run": 3, "day": 41.03, "temp": 12.6},
      {"series": "Ambient temperature", "run": 3, "day": 41.13, "temp": 16.8}
    ]
  },
  "encoding": {
    "x": {
      "field": "day", "type": "quantitative",
      "scale": {"domain": [0, 70], "nice": false, "zero": false},
      "axis": {
        "values": [0, 14, 28, 42, 56, 70], "title": "Time (days)",
        "tickSize": 8, "labelPadding": 25, "grid": false,
        "labelFlush": false, "labelOverlap": false,
        "titleX": 433, "titleY": 89, "titleBaseline": "alphabetic", "titleAlign": "center"
      }
    },
    "color": {
      "field": "series", "type": "nominal",
      "scale": {
        "domain": ["Garden waste (1)", "Garden waste (2)", "Temperature (1)", "Temperature (2)", "Ambient temperature"],
        "range": ["#000080", "#FF00FF", "#808000", "#008080", "#404040"]
      },
      "legend": {
        "title": null, "orient": "none", "legendX": -48, "legendY": 517,
        "direction": "horizontal", "columns": 3, "gridAlign": "all",
        "columnPadding": 16, "rowPadding": 6, "padding": 7,
        "symbolSize": 900, "symbolStrokeWidth": 1.1, "labelOffset": 8,
        "labelFontSize": 27, "labelLimit": 500, "labelColor": "black",
        "strokeColor": "#333333", "fillColor": "white",
        "encode": {
          "symbols": {
            "update": {
              "shape": {"signal": "datum.value === 'Garden waste (1)' ? 'M-1,0H1M-0.12,0L0,-0.14L0.12,0L0,0.14Z' : datum.value === 'Garden waste (2)' ? 'M-1,0H1M-0.1,-0.1H0.1V0.1H-0.1Z' : 'M-1,0H1'"},
              "fill": {"scale": "color", "field": "value"},
              "stroke": {"scale": "color", "field": "value"},
              "opacity": {"value": 1}
            }
          }
        }
      }
    }
  },
  "layer": [
    {
      "data": {"values": [{"day": 14}, {"day": 28}, {"day": 42}, {"day": 56}]},
      "mark": {"type": "rule", "strokeDash": [7, 4], "strokeWidth": 1},
      "encoding": {"color": {"value": "black"}}
    },
    {
      "data": {"values": [{"day": 70}]},
      "mark": {"type": "rule", "strokeWidth": 1.5},
      "encoding": {"color": {"value": "black"}}
    },
    {
      "data": {"name": "temp"},
      "mark": {"type": "line", "strokeWidth": 1},
      "encoding": {
        "y": {
          "field": "temp", "type": "quantitative",
          "scale": {"domain": [0, 70], "nice": false},
          "axis": {
            "orient": "right", "values": [0, 10, 20, 30, 40, 50, 60, 70],
            "offset": -10, "domain": false, "tickSize": 16, "labelPadding": 14, "grid": false,
            "title": "Temperature (Deg C)", "titleAngle": 270, "titleX": 99, "titleY": 198,
            "titleBaseline": "alphabetic", "titleAlign": "center"
          }
        },
        "detail": {"field": "run", "type": "nominal"}
      }
    },
    {
      "data": {"name": "co2"},
      "encoding": {
        "y": {
          "field": "co2", "type": "quantitative",
          "scale": {"domain": [0, 18], "nice": false},
          "axis": {
            "orient": "left", "values": [0, 2, 4, 6, 8, 10, 12, 14, 16, 18],
            "labelExpr": "datum.value + '%'", "tickSize": 8, "labelPadding": 14,
            "grid": true, "gridColor": "#999999", "gridWidth": 1,
            "title": "Headspace CO2%", "titleAngle": 270, "titleX": -95, "titleY": 204,
            "titleBaseline": "alphabetic", "titleAlign": "center"
          }
        }
      },
      "layer": [
        {"mark": {"type": "line", "strokeWidth": 1}},
        {
          "mark": {"type": "point", "filled": true, "opacity": 1, "size": 64},
          "encoding": {
            "shape": {
              "field": "series", "type": "nominal",
              "scale": {"domain": ["Garden waste (1)", "Garden waste (2)"], "range": ["diamond", "square"]},
              "legend": null
            }
          }
        }
      ]
    }
  ],
  "resolve": {"scale": {"y": "independent"}}
}
